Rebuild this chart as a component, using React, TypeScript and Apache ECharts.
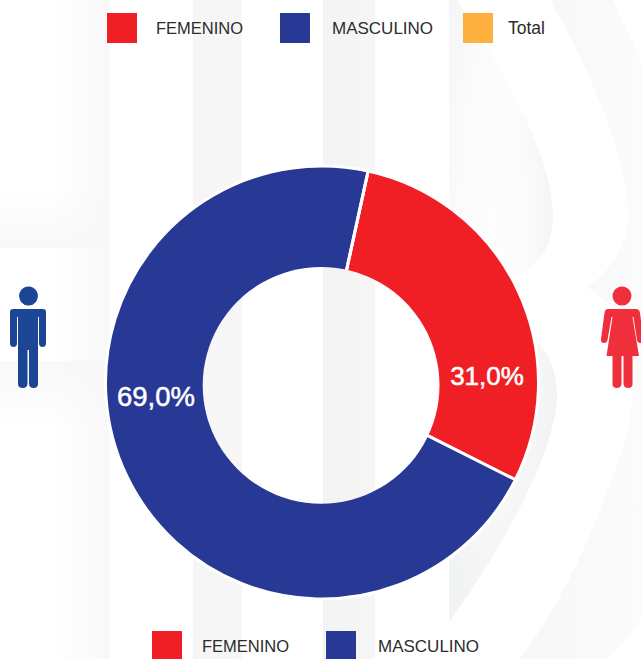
import React, { useEffect, useRef } from "react";
import * as echarts from "echarts";

const categories = ["FEMENINO", "MASCULINO", "Total"];
// Angular shares as drawn in the picture (the printed labels differ slightly from the drawn sweep).
const sliceShares = [29, 71, 0];
const printedLabels = ["31,0%", "69,0%", ""];
const colors = ["#f01f26", "#283995", "#ffb140"];

const W = 641;
const H = 659;

const labelSpots = [
  { x: 487, y: 376, size: 26 },
  { x: 156, y: 396, size: 27.5 },
];

const legendSpots = [
  { name: "FEMENINO", left: 107, top: 13, gap: 14, size: 16.5 },
  { name: "MASCULINO", left: 280, top: 13, gap: 17, size: 17 },
  { name: "Total", left: 463, top: 13, gap: 10, size: 17.5 },
  { name: "FEMENINO", left: 152, top: 631, gap: 15, size: 16.5 },
  { name: "MASCULINO", left: 326, top: 631, gap: 17, size: 17 },
];

const manBody =
  "M13 309 H43 Q46 309 46 312 V343 Q46 347 42.5 347 Q39 347 39 343 V317 H38 V384 Q38 388 33.5 388 Q29.5 388 29 384 V350 H27.5 V384 Q27 388 23 388 Q18 388 18 384 V317 H17 V343 Q17 347 13.5 347 Q10 347 10 343 V312 Q10 309 13 309 Z";
const womanBody =
  "M608 309 H636 Q639.5 309 640 313 L643.5 339 Q644 343 640.5 343 Q637.5 343 637 340 L633.5 317 H632.5 L639 356 H632.5 V384 Q632.5 388 628 388 Q624 388 623.5 384 V356 H621.5 V384 Q621 388 617 388 Q612.5 388 612.5 384 V356 H606.5 L612.5 317 H611.5 L607.5 340 Q607 343 604 343 Q600.5 343 601 339 L604.5 313 Q605 309 608 309 Z";
const dropShape =
  "M449 0 H457 C490 50 553 150 553 215 C553 250 535 270 513 276 L460 330 L533 340 C550 350 557 375 557 395 C557 430 530 510 449 622 Z";
const stripeShape =
  "M550 0 C570 35 585 65 597 95 C612 130 628 180 628 215 C628 245 612 270 587 287 L620 312 C630 330 633 370 632 400 C630 420 628 430 625 440 C612 480 598 518 583 550 C565 590 545 625 520 659 H608 C620 648 630 636 641 622 V60 L613 0 Z";

echarts.graphic.registerShape("manBody", echarts.graphic.extendPath(manBody, {}));
echarts.graphic.registerShape("womanBody", echarts.graphic.extendPath(womanBody, {}));
echarts.graphic.registerShape("dropShape", echarts.graphic.extendPath(dropShape, {}));
echarts.graphic.registerShape("stripeShape", echarts.graphic.extendPath(stripeShape, {}));

const linear = (x2: number, y2: number, from: string, to: string, mid?: number) => ({
  type: "linear",
  x: 0,
  y: 0,
  x2,
  y2,
  colorStops: [
    { offset: 0, color: from },
    ...(mid !== undefined ? [{ offset: mid, color: from }] : []),
    { offset: 1, color: to },
  ],
});

const rect = (x: number, y: number, width: number, height: number, fill: any) => ({
  type: "rect",
  silent: true,
  z: -10,
  shape: { x, y, width, height },
  style: { fill },
});

// The hole sits slightly off the ring's centre and shows the same background bands.
const holeX = 202.7;
const holeD = 236.8;
const hs = (x: number) => (x - holeX) / holeD;
const holeFill = {
  type: "linear",
  x: 0,
  y: 0,
  x2: 1,
  y2: 0,
  colorStops: [
    { offset: 0, color: "#f6f6f6" },
    { offset: hs(242), color: "#f7f7f7" },
    { offset: hs(242), color: "#ffffff" },
    { offset: hs(323), color: "#ffffff" },
    { offset: hs(323), color: "#f3f3f4" },
    { offset: hs(375), color: "#f6f6f6" },
    { offset: hs(375), color: "#ffffff" },
    { offset: 1, color: "#ffffff" },
  ],
};

export default function App() {
  const ref = useRef<HTMLDivElement>(null);

  useEffect(() => {
    const chart = echarts.init(ref.current!, null, { renderer: "svg" });
    chart.setOption({
      animation: false,
      backgroundColor: "#ffffff",
      graphic: [
        rect(0, 0, 110, H, linear(1, 0, "#ffffff", "#f8f8f8", 0.5)),
        rect(0, 185, 110, 63, linear(0, 1, "rgba(248,248,248,0)", "#f8f8f8")),
        rect(0, 361, 110, 70, linear(0, 1, "#f8f8f8", "rgba(248,248,248,0)")),
        rect(0, 248, 47, 113, "#ffffff"),
        rect(193, 0, 49, H, linear(1, 0, "#f5f5f5", "#f7f7f7")),
        rect(323, 0, 52, H, linear(1, 0, "#f2f3f4", "#f6f6f6")),
        {
          type: "stripeShape",
          silent: true,
          z: -9,
          x: 0,
          y: 0,
          style: { fill: linear(1, 0, "#f6f7f8", "#fbfbfb") },
        },
        {
          type: "dropShape",
          silent: true,
          z: -9,
          x: 0,
          y: 0,
          style: {
            fill: {
              type: "radial",
              x: 0.4,
              y: 0.38,
              r: 0.62,
              colorStops: [
                { offset: 0, color: "#fdfdfd" },
                { offset: 0.5, color: "#fbfbfb" },
                { offset: 1, color: "#f2f3f4" },
              ],
            },
          },
        },
        { type: "circle", silent: true, shape: { cx: 28.5, cy: 296, r: 9.4 }, style: { fill: "#1c4595" } },
        { type: "manBody", silent: true, x: 0, y: 0, style: { fill: "#1c4595" } },
        { type: "circle", silent: true, shape: { cx: 622, cy: 296, r: 9.4 }, style: { fill: "#ef2f3c" } },
        { type: "womanBody", silent: true, x: 0, y: 0, style: { fill: "#ef2f3c" } },
        {
          type: "circle",
          silent: true,
          z: 20,
          shape: { cx: holeX + holeD / 2, cy: 385.3, r: holeD / 2 },
          style: { fill: holeFill },
        },
      ],
      legend: legendSpots.map((s) => ({
        data: [s.name],
        left: s.left,
        top: s.top,
        padding: 0,
        icon: "rect",
        itemWidth: 30,
        itemHeight: 30,
        selectedMode: false,
        itemStyle: { borderWidth: 0 },
        textStyle: {
          color: "#2c2c2c",
          fontFamily: "Liberation Sans",
          fontSize: s.size,
          padding: [0, 0, 0, s.gap],
        },
      })),
      series: [
        {
          type: "pie",
          center: [322, 382.5],
          radius: [100, 216.5],
          startAngle: 77.7,
          clockwise: true,
          avoidLabelOverlap: false,
          silent: true,
          itemStyle: { borderColor: "#ffffff", borderWidth: 3 },
          labelLine: { show: false },
          label: {
            show: true,
            formatter: (p: any) => printedLabels[p.dataIndex],
            color: "#ffffff",
            fontFamily: "Liberation Sans",
            textBorderColor: "#ffffff",
            textBorderWidth: 0.5,
          },
          labelLayout: (p: any) => {
            const spot = labelSpots[p.dataIndex];
            return spot ? { x: spot.x, y: spot.y, align: "center", verticalAlign: "middle" } : {};
          },
          data: categories.map((name, i) => ({
            name,
            value: sliceShares[i],
            itemStyle: { color: colors[i] },
            label: { show: i < 2, fontSize: labelSpots[i] ? labelSpots[i].size : 26 },
          })),
        },
      ],
    });
    return () => chart.dispose();
  }, []);

  return <div ref={ref} style={{ position: "absolute", left: 0, top: 0, width: W, height: H, overflow: "hidden" }} />;
}
